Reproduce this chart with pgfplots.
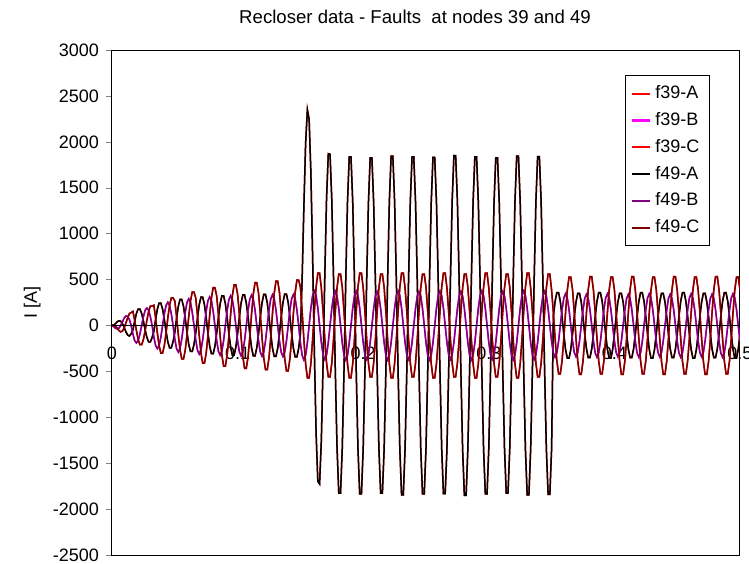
\documentclass[border=0pt]{standalone}
\usepackage{pgfplots}
\usepackage{pgfplotstable}
\pgfplotsset{compat=1.18}
\usepackage{fontspec}
\setmainfont{Liberation Sans}
\definecolor{xldarkred}{RGB}{128,0,0}
\definecolor{xlpurple}{RGB}{128,0,128}
\definecolor{xlmagenta}{RGB}{255,0,255}

% k = sample index (12 samples per 60 Hz cycle, 720 samples/s); A, B, C = phase currents [A]
\pgfplotstableread{
k A B C
0 0 0 0
1 4 -13 4
2 20 -30 -8
3 40 -37 -31
4 51 -29 -56
5 46 0 -70
6 20 41 -60
7 -23 81 -25
8 -70 104 28
9 -105 99 86
10 -115 62 129
11 -90 0 141
12 -48 -95 153
13 48 -165 56
14 131 -190 -56
15 179 -165 -153
16 179 -95 -210
17 131 0 -210
18 48 95 -153
19 -48 165 -56
20 -131 190 56
21 -179 165 153
22 -179 95 210
23 -131 0 210
24 -65 -127 220
25 65 -219 81
26 178 -253 -81
27 243 -219 -220
28 243 -127 -300
29 178 0 -300
30 65 127 -220
31 -65 219 -81
32 -178 253 81
33 -243 219 220
34 -243 127 300
35 -178 0 300
36 -76 -145 267
37 76 -251 98
38 207 -290 -98
39 283 -251 -267
40 283 -145 -364
41 207 0 -364
42 76 145 -267
43 -76 251 -98
44 -207 290 98
45 -283 251 267
46 -283 145 364
47 -207 0 364
48 -83 -156 300
49 83 -269 110
50 226 -311 -110
51 308 -269 -300
52 308 -156 -411
53 226 0 -411
54 83 156 -300
55 -83 269 -110
56 -226 311 110
57 -308 269 300
58 -308 156 411
59 -226 0 411
60 -87 -162 324
61 87 -280 119
62 236 -323 -119
63 323 -280 -324
64 323 -162 -442
65 236 0 -442
66 87 162 -324
67 -87 280 -119
68 -236 323 119
69 -323 280 324
70 -323 162 442
71 -236 0 442
72 -89 -165 341
73 89 -286 125
74 243 -330 -125
75 332 -286 -341
76 332 -165 -466
77 243 0 -466
78 89 165 -341
79 -89 286 -125
80 -243 330 125
81 -332 286 341
82 -332 165 466
83 -243 0 466
84 -91 -167 353
85 91 -289 129
86 247 -334 -129
87 338 -289 -353
88 338 -167 -482
89 247 0 -482
90 91 167 -353
91 -91 289 -129
92 -247 334 129
93 -338 289 353
94 -338 167 482
95 -247 0 482
96 -92 -169 361
97 92 -292 132
98 250 -337 -132
99 342 -292 -361
100 342 -169 -494
101 250 0 -494
102 92 169 -361
103 -92 292 -132
104 -250 337 132
105 -342 292 361
106 -342 169 494
107 -250 0 494
108 -91 -188 417
109 511 -325 153
110 1295 -375 -153
111 1986 -325 -417
112 2350 -188 -570
113 2247 0 -570
114 1673 188 -417
115 756 325 -153
116 -280 375 153
117 -1174 325 417
118 -1699 188 570
119 -1726 0 570
120 -1256 -185 410
121 -422 -320 150
122 548 -370 -150
123 1388 -320 -410
124 1871 -185 -560
125 1864 0 -560
126 1366 185 -410
127 510 320 -150
128 -477 370 150
129 -1331 320 410
130 -1826 185 560
131 -1827 0 560
132 -1343 -188 417
133 -492 -325 153
134 492 -375 -153
135 1343 -325 -417
136 1835 -188 -570
137 1835 0 -570
138 1343 188 -417
139 492 325 -153
140 -492 375 153
141 -1343 325 417
142 -1835 188 570
143 -1835 0 570
144 -1336 -185 410
145 -490 -320 150
146 490 -370 -150
147 1336 -320 -410
148 1826 -185 -560
149 1826 0 -560
150 1336 185 -410
151 490 320 -150
152 -490 370 150
153 -1336 320 410
154 -1826 185 560
155 -1826 0 560
156 -1350 -188 417
157 -495 -325 153
158 495 -375 -153
159 1350 -325 -417
160 1845 -188 -570
161 1845 0 -570
162 1350 188 -417
163 495 325 -153
164 -495 375 153
165 -1350 325 417
166 -1845 188 570
167 -1845 0 570
168 -1343 -185 410
169 -492 -320 150
170 492 -370 -150
171 1343 -320 -410
172 1835 -185 -560
173 1835 0 -560
174 1343 185 -410
175 492 320 -150
176 -492 370 150
177 -1343 320 410
178 -1835 185 560
179 -1835 0 560
180 -1340 -188 417
181 -491 -325 153
182 491 -375 -153
183 1340 -325 -417
184 1831 -188 -570
185 1831 0 -570
186 1340 188 -417
187 491 325 -153
188 -491 375 153
189 -1340 325 417
190 -1831 188 570
191 -1831 0 570
192 -1354 -185 410
193 -496 -320 150
194 496 -370 -150
195 1354 -320 -410
196 1850 -185 -560
197 1850 0 -560
198 1354 185 -410
199 496 320 -150
200 -496 370 150
201 -1354 320 410
202 -1850 185 560
203 -1850 0 560
204 -1343 -188 417
205 -492 -325 153
206 492 -375 -153
207 1343 -325 -417
208 1835 -188 -570
209 1835 0 -570
210 1343 188 -417
211 492 325 -153
212 -492 375 153
213 -1343 325 417
214 -1835 188 570
215 -1835 0 570
216 -1336 -185 410
217 -490 -320 150
218 490 -370 -150
219 1336 -320 -410
220 1826 -185 -560
221 1826 0 -560
222 1336 185 -410
223 490 320 -150
224 -490 370 150
225 -1336 320 410
226 -1826 185 560
227 -1826 0 560
228 -1350 -188 417
229 -495 -325 153
230 495 -375 -153
231 1350 -325 -417
232 1845 -188 -570
233 1845 0 -570
234 1350 188 -417
235 495 325 -153
236 -495 375 153
237 -1350 325 417
238 -1845 188 570
239 -1845 0 570
240 -1347 -185 410
241 -493 -320 150
242 493 -370 -150
243 1347 -320 -410
244 1840 -185 -560
245 1840 0 -560
246 1347 185 -410
247 493 320 -150
248 -493 370 150
249 -1347 320 410
250 -1840 185 560
251 -1840 0 560
252 -1347 -173 385
253 96 -299 141
254 262 -345 -141
255 357 -299 -385
256 357 -173 -526
257 262 0 -526
258 96 173 -385
259 -96 299 -141
260 -262 345 141
261 -357 299 385
262 -357 173 526
263 -262 0 526
264 -94 -170 390
265 94 -294 143
266 256 -340 -143
267 350 -294 -390
268 350 -170 -533
269 256 0 -533
270 94 170 -390
271 -94 294 -143
272 -256 340 143
273 -350 294 390
274 -350 170 533
275 -256 0 533
276 -96 -173 385
277 96 -299 141
278 262 -345 -141
279 357 -299 -385
280 357 -173 -526
281 262 0 -526
282 96 173 -385
283 -96 299 -141
284 -262 345 141
285 -357 299 385
286 -357 173 526
287 -262 0 526
288 -94 -170 390
289 94 -294 143
290 256 -340 -143
291 350 -294 -390
292 350 -170 -533
293 256 0 -533
294 94 170 -390
295 -94 294 -143
296 -256 340 143
297 -350 294 390
298 -350 170 533
299 -256 0 533
300 -96 -173 385
301 96 -299 141
302 262 -345 -141
303 357 -299 -385
304 357 -173 -526
305 262 0 -526
306 96 173 -385
307 -96 299 -141
308 -262 345 141
309 -357 299 385
310 -357 173 526
311 -262 0 526
312 -94 -170 390
313 94 -294 143
314 256 -340 -143
315 350 -294 -390
316 350 -170 -533
317 256 0 -533
318 94 170 -390
319 -94 294 -143
320 -256 340 143
321 -350 294 390
322 -350 170 533
323 -256 0 533
324 -96 -173 385
325 96 -299 141
326 262 -345 -141
327 357 -299 -385
328 357 -173 -526
329 262 0 -526
330 96 173 -385
331 -96 299 -141
332 -262 345 141
333 -357 299 385
334 -357 173 526
335 -262 0 526
336 -94 -170 390
337 94 -294 143
338 256 -340 -143
339 350 -294 -390
340 350 -170 -533
341 256 0 -533
342 94 170 -390
343 -94 294 -143
344 -256 340 143
345 -350 294 390
346 -350 170 533
347 -256 0 533
348 -96 -173 385
349 96 -299 141
350 262 -345 -141
351 357 -299 -385
352 357 -173 -526
353 262 0 -526
354 96 173 -385
355 -96 299 -141
356 -262 345 141
357 -357 299 385
358 -357 173 526
359 -262 0 526
360 -94 -170 390
}\datatable

\begin{document}
\begin{tikzpicture}
\useasboundingbox (-56pt,-4pt) rectangle (318.5pt,277.5pt);
\begin{axis}[
  at={(0pt,0pt)}, anchor=south west,
  scale only axis, width=314pt, height=252.5pt,
  xmin=0, xmax=360, ymin=-2500, ymax=3000,
  axis line style={black, line width=0.5pt},
  xtick={0,72,144,216,288,360},
  xticklabels={0,0.1,0.2,0.3,0.4,0.5},
  xtick style={draw=none},
  xticklabel style={anchor=center, yshift=100.8pt, font=\fontsize{9}{10}\selectfont},
  ytick={-2500,-2000,...,3000},
  ytick pos=left,
  ytick align=outside,
  major tick length=3pt,
  yticklabel style={font=\fontsize{9}{10}\selectfont},
  /pgf/number format/assume math mode=true,
  /pgf/number format/1000 sep={},
  ylabel={I [A]},
  ylabel style={at={(axis description cs:-0.127,0.5)}, anchor=center, font=\fontsize{9}{10}\selectfont},
  title={Recloser data - Faults\ \ at nodes 39 and 49},
  title style={at={(axis description cs:0.4825,1)}, anchor=center, yshift=10.5pt, font=\fontsize{9.3}{10}\selectfont},
  legend style={at={(axis description cs:0.952,0.950)}, anchor=north east, draw=black,
    font=\fontsize{9}{10}\selectfont, row sep=1.4pt, inner sep=3pt},
  legend cell align=left,
  legend image code/.code={\draw[#1, line width=1.1pt] (0pt,0pt) -- (9pt,0pt);},
  every axis plot/.append style={line width=0.75pt},
]
\addplot[red] table[x=k,y=A]{\datatable};
\addlegendentry{f39-A}
\addplot[xlmagenta] table[x=k,y=B]{\datatable};
\addlegendentry{f39-B}
\addplot[red] table[x=k,y=C]{\datatable};
\addlegendentry{f39-C}
\addplot[black] table[x=k,y=A]{\datatable};
\addlegendentry{f49-A}
\addplot[xlpurple] table[x=k,y=B]{\datatable};
\addlegendentry{f49-B}
\addplot[xldarkred] table[x=k,y=C]{\datatable};
\addlegendentry{f49-C}
\draw[black, line width=0.6pt] (axis cs:0,0) -- (axis cs:360,0);
\end{axis}
\end{tikzpicture}
\end{document}
